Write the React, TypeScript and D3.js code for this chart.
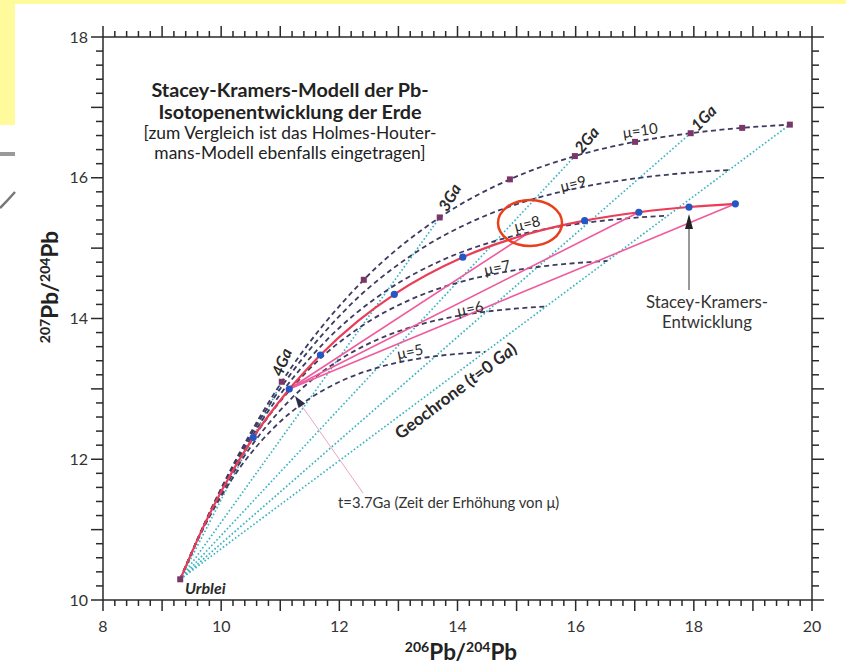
import React, { useEffect, useRef } from "react";
import * as d3 from "d3";

// Holmes-Houtermans growth curves, read at these ages (Ga)
const HH_AGES = [4.57, 4.4, 4.25, 4.0, 3.5, 3.0, 2.5, 2.0, 1.5, 1.0, 0.5, 0];
const HH_MU = [5, 6, 7, 8, 9, 10];
const HH_206 = [
  [9.307, 9.571, 9.799, 10.167, 10.861, 11.503, 12.097, 12.647, 13.156, 13.627, 14.063, 14.466],
  [9.307, 9.624, 9.897, 10.339, 11.171, 11.942, 12.655, 13.315, 13.926, 14.491, 15.014, 15.498],
  [9.307, 9.677, 9.996, 10.51, 11.482, 12.381, 13.213, 13.983, 14.696, 15.355, 15.965, 16.529],
  [9.307, 9.73, 10.094, 10.682, 11.793, 12.82, 13.771, 14.651, 15.465, 16.219, 16.916, 17.561],
  [9.307, 9.783, 10.192, 10.854, 12.103, 13.26, 14.329, 15.319, 16.235, 17.083, 17.867, 18.593],
  [9.307, 9.835, 10.291, 11.026, 12.414, 13.699, 14.887, 15.987, 17.005, 17.947, 18.818, 19.625],
];
const HH_207 = [
  [10.294, 10.798, 11.177, 11.697, 12.422, 12.865, 13.136, 13.301, 13.402, 13.464, 13.502, 13.525],
  [10.294, 10.898, 11.354, 11.978, 12.848, 13.379, 13.704, 13.902, 14.024, 14.098, 14.143, 14.171],
  [10.294, 10.999, 11.53, 12.259, 13.273, 13.893, 14.272, 14.504, 14.645, 14.732, 14.785, 14.817],
  [10.294, 11.1, 11.707, 12.539, 13.699, 14.407, 14.84, 15.105, 15.267, 15.366, 15.426, 15.463],
  [10.294, 11.201, 11.884, 12.82, 14.124, 14.921, 15.409, 15.706, 15.888, 15.999, 16.068, 16.109],
  [10.294, 11.301, 12.06, 13.101, 14.55, 15.436, 15.977, 16.308, 16.51, 16.633, 16.709, 16.755],
];
const SQUARE_AGES = [4.0, 3.5, 3.0, 2.5, 2.0, 1.5, 1.0, 0.5, 0];
const ISOCHRON_AGES = [4.0, 3.0, 2.0, 1.0, 0];

// Stacey-Kramers, stage 1 (mu 7.19) and stage 2 (mu 9.74)
const SK1_AGES = [4.57, 4.4, 4.25, 4.0, 3.7];
const SK1_206 = [9.307, 9.687, 10.014, 10.543, 11.152];
const SK1_207 = [10.294, 11.018, 11.564, 12.312, 12.998];
const SK2_AGES = [3.7, 3.5, 3.25, 3.0, 2.5, 2.0, 1.5, 1.0, 0.5, 0];
const SK2_206 = [11.152, 11.68, 12.318, 12.931, 14.089, 15.16, 16.152, 17.069, 17.918, 18.703];
const SK2_207 = [12.998, 13.481, 13.965, 14.344, 14.871, 15.193, 15.39, 15.51, 15.584, 15.629];
const SK_DOT_AGES = [4.0, 3.7, 3.5, 3.0, 2.5, 1.5, 1.0, 0.5, 0];
const SK_CHORD_AGES = [2.0, 1.0, 0];

const X_LABELS = [8, 10, 12, 14, 16, 18, 20];
const Y_LABELS = [10, 12, 14, 16, 18];

export default function App() {
  const ref = useRef<SVGSVGElement>(null);

  useEffect(() => {
    if (!ref.current) return;
    const svg = d3.select(ref.current);
    svg.selectAll("*").remove();

    const W = 846;
    const H = 668;
    const font = "Lato, 'Open Sans', sans-serif";
    const x = d3.scaleLinear().domain([8, 20]).range([103, 812]);
    const y = d3.scaleLinear().domain([10, 18]).range([600, 37]);

    // page background (slide remains)
    svg.append("rect").attr("width", W).attr("height", H).attr("fill", "#fff");
    svg.append("rect").attr("width", W).attr("height", 4).attr("fill", "#fffb9c");
    svg.append("rect").attr("width", 15).attr("height", 125).attr("fill", "#fffb9c");
    svg.append("rect").attr("y", 152).attr("width", 15).attr("height", 4).attr("fill", "#9a9a9a");
    svg
      .append("path")
      .attr("d", "M0,208 Q8,200 15,192")
      .attr("stroke", "#777")
      .attr("stroke-width", 2.5)
      .attr("fill", "none");

    const pt = (a: number, b: number): [number, number] => [x(a), y(b)];
    const line = d3
      .line<[number, number]>()
      .x((d) => d[0])
      .y((d) => d[1])
      .curve(d3.curveMonotoneX);

    // axes frame + ticks
    const axisColor = "#2a2a2a";
    const g = svg.append("g").attr("stroke", axisColor).attr("stroke-width", 1.5);
    g.append("rect")
      .attr("x", x(8))
      .attr("y", y(18))
      .attr("width", x(20) - x(8))
      .attr("height", y(10) - y(18))
      .attr("fill", "none");
    const isInt = (v: number) => Math.abs(v - Math.round(v)) < 1e-6;
    const xt = d3.range(0, 61).map((i) => 8 + i * 0.2);
    xt.forEach((v) => {
      const len = isInt(v) ? 11 : 6;
      g.append("line").attr("x1", x(v)).attr("x2", x(v)).attr("y1", y(10)).attr("y2", y(10) + len);
      g.append("line").attr("x1", x(v)).attr("x2", x(v)).attr("y1", y(18)).attr("y2", y(18) - len);
    });
    const yt = d3.range(0, 41).map((i) => 10 + i * 0.2);
    yt.forEach((v) => {
      const len = isInt(v) ? 12 : 7;
      g.append("line").attr("x1", x(8)).attr("x2", x(8) - len).attr("y1", y(v)).attr("y2", y(v));
      g.append("line").attr("x1", x(20)).attr("x2", x(20) + len).attr("y1", y(v)).attr("y2", y(v));
    });

    svg
      .append("g")
      .selectAll("text")
      .data(X_LABELS)
      .join("text")
      .attr("x", (d) => x(d))
      .attr("y", 632)
      .attr("text-anchor", "middle")
      .attr("font-family", font)
      .attr("font-size", 16)
      .attr("fill", "#333")
      .text((d) => d);
    svg
      .append("g")
      .selectAll("text")
      .data(Y_LABELS)
      .join("text")
      .attr("x", 88)
      .attr("y", (d) => y(d) + 5.5)
      .attr("text-anchor", "end")
      .attr("font-family", font)
      .attr("font-size", 16)
      .attr("fill", "#333")
      .text((d) => d);

    // axis titles with superscripts
    const isoTitle = (t: d3.Selection<SVGTextElement, unknown, null, undefined>, a: string, b: string) => {
      t.append("tspan").attr("font-size", 14).attr("dy", -8).text(a);
      t.append("tspan").attr("font-size", 22.5).attr("dy", 8).text("Pb/");
      t.append("tspan").attr("font-size", 14).attr("dy", -8).text(b);
      t.append("tspan").attr("font-size", 22.5).attr("dy", 8).text("Pb");
    };
    const xTitle = svg
      .append("text")
      .attr("x", 461)
      .attr("y", 660)
      .attr("text-anchor", "middle")
      .attr("font-family", font)
      .attr("font-weight", "bold")
      .attr("fill", "#222");
    isoTitle(xTitle, "206", "204");
    const yTitle = svg
      .append("text")
      .attr("transform", "translate(58,287) rotate(-90)")
      .attr("text-anchor", "middle")
      .attr("font-family", font)
      .attr("font-weight", "bold")
      .attr("fill", "#222");
    isoTitle(yTitle, "207", "204");

    // isochrons from Urblei to the mu=10 curve
    const mu10 = HH_MU.indexOf(10);
    ISOCHRON_AGES.forEach((a) => {
      const i = HH_AGES.indexOf(a);
      svg
        .append("line")
        .attr("x1", x(HH_206[mu10][0]))
        .attr("y1", y(HH_207[mu10][0]))
        .attr("x2", x(HH_206[mu10][i]))
        .attr("y2", y(HH_207[mu10][i]))
        .attr("stroke", "#3ab3c3")
        .attr("stroke-width", 1.7)
        .attr("stroke-dasharray", "1.6 2.2");
    });

    // Holmes-Houtermans curves
    HH_MU.forEach((m, k) => {
      const pts = HH_AGES.map((_, i) => pt(HH_206[k][i], HH_207[k][i]));
      svg
        .append("path")
        .attr("d", line(pts))
        .attr("fill", "none")
        .attr("stroke", "#3e3b63")
        .attr("stroke-width", 1.8)
        .attr("stroke-dasharray", "5 3.5");
    });

    // Stacey-Kramers straight chords from the 3.7 Ga point
    const p37 = pt(SK2_206[0], SK2_207[0]);
    SK_CHORD_AGES.forEach((a) => {
      const i = SK2_AGES.indexOf(a);
      svg
        .append("line")
        .attr("x1", p37[0])
        .attr("y1", p37[1])
        .attr("x2", x(SK2_206[i]))
        .attr("y2", y(SK2_207[i]))
        .attr("stroke", "#ef5b9c")
        .attr("stroke-width", 1.6);
    });

    // Stacey-Kramers curve
    [
      SK1_AGES.map((_, i) => pt(SK1_206[i], SK1_207[i])),
      SK2_AGES.map((_, i) => pt(SK2_206[i], SK2_207[i])),
    ].forEach((pts) => {
      svg
        .append("path")
        .attr("d", line(pts))
        .attr("fill", "none")
        .attr("stroke", "#ea3d57")
        .attr("stroke-width", 2.2);
    });

    // squares on mu=10 + Urblei
    const sq = [0, ...SQUARE_AGES.map((a) => HH_AGES.indexOf(a))];
    svg
      .append("g")
      .selectAll("rect")
      .data(sq)
      .join("rect")
      .attr("x", (i) => x(HH_206[mu10][i]) - 3)
      .attr("y", (i) => y(HH_207[mu10][i]) - 3)
      .attr("width", 6)
      .attr("height", 6)
      .attr("fill", "#7b3768");

    // SK dots
    const dotPts = SK_DOT_AGES.map((a) => {
      const i1 = SK1_AGES.indexOf(a);
      if (i1 >= 0 && a !== 3.7) return pt(SK1_206[i1], SK1_207[i1]);
      const i2 = SK2_AGES.indexOf(a);
      return pt(SK2_206[i2], SK2_207[i2]);
    });
    svg
      .append("g")
      .selectAll("circle")
      .data(dotPts)
      .join("circle")
      .attr("cx", (d) => d[0])
      .attr("cy", (d) => d[1])
      .attr("r", 3.6)
      .attr("fill", "#2456c4");

    // labels
    const label = (
      txt: string,
      px: number,
      py: number,
      rot: number,
      size: number,
      weight: string,
      style = "normal",
      fill = "#2a2a2a",
    ) =>
      svg
        .append("text")
        .attr("transform", `translate(${px},${py}) rotate(${rot})`)
        .attr("text-anchor", "middle")
        .attr("dominant-baseline", "central")
        .attr("font-family", font)
        .attr("font-size", size)
        .attr("font-weight", weight)
        .attr("font-style", style)
        .attr("fill", fill)
        .text(txt);

    label("μ=10", x(17.09), y(16.68), -8, 15, "normal");
    label("μ=9", x(15.955), y(15.925), -14, 15, "normal");
    label("μ=8", x(15.177), y(15.357), -14, 15, "normal");
    label("μ=7", x(14.669), y(14.732), -12, 15, "normal");
    label("μ=6", x(14.212), y(14.149), -12, 15, "normal");
    label("μ=5", x(13.196), y(13.538), -12, 15, "normal");

    label("4Ga", x(11.013), y(13.382), -68, 16, "bold", "italic");
    label("3Ga", x(13.856), y(15.727), -60, 16, "bold", "italic");
    label("2Ga", x(16.175), y(16.547), -50, 16, "bold", "italic");
    label("1Ga", x(18.156), y(16.859), -45, 16, "bold", "italic");

    const geo = svg
      .append("text")
      .attr("transform", `translate(455,390) rotate(-37)`)
      .attr("text-anchor", "middle")
      .attr("dominant-baseline", "central")
      .attr("font-family", font)
      .attr("font-size", 17)
      .attr("font-weight", "bold")
      .attr("fill", "#2a2a2a");
    geo.append("tspan").text("Geochrone (");
    geo.append("tspan").attr("font-style", "italic").text("t");
    geo.append("tspan").text("=0 ");
    geo.append("tspan").attr("font-style", "italic").text("Ga");
    geo.append("tspan").text(")");

    svg
      .append("text")
      .attr("x", 185)
      .attr("y", 594)
      .attr("font-family", font)
      .attr("font-size", 16)
      .attr("font-weight", "bold")
      .attr("font-style", "italic")
      .attr("fill", "#2a2a2a")
      .text("Urblei");

    // title block
    const title = [
      { t: "Stacey-Kramers-Modell der Pb-", yy: 97, w: "bold", s: 19.8 },
      { t: "Isotopenentwicklung der Erde", yy: 119, w: "bold", s: 19.8 },
      { t: "[zum Vergleich ist das Holmes-Houter-", yy: 139, w: "normal", s: 17.4 },
      { t: "mans-Modell ebenfalls eingetragen]", yy: 159, w: "normal", s: 17.4 },
    ];
    title.forEach((r) =>
      svg
        .append("text")
        .attr("x", 290)
        .attr("y", r.yy)
        .attr("text-anchor", "middle")
        .attr("font-family", font)
        .attr("font-size", r.s)
        .attr("font-weight", r.w)
        .attr("fill", "#222")
        .text(r.t),
    );

    // Stacey-Kramers annotation with arrow
    svg.append("line").attr("x1", 689).attr("x2", 689).attr("y1", 228).attr("y2", 290).attr("stroke", "#333").attr("stroke-width", 1);
    svg.append("path").attr("d", "M689,214 L685,229 L693,229 Z").attr("fill", "#222");
    ["Stacey-Kramers-", "Entwicklung"].forEach((t, i) =>
      svg
        .append("text")
        .attr("x", 707)
        .attr("y", 308 + i * 20)
        .attr("text-anchor", "middle")
        .attr("font-family", font)
        .attr("font-size", 16.8)
        .attr("fill", "#333")
        .text(t),
    );

    // t=3.7 Ga pointer
    const tip: [number, number] = [295, 396];
    const from: [number, number] = [363, 493];
    const dx = from[0] - tip[0];
    const dy = from[1] - tip[1];
    const L = Math.hypot(dx, dy);
    const ux = dx / L;
    const uy = dy / L;
    svg.append("line").attr("x1", tip[0] + ux * 10).attr("y1", tip[1] + uy * 10).attr("x2", from[0]).attr("y2", from[1]).attr("stroke", "#e9a6c0").attr("stroke-width", 1);
    const bx = tip[0] + ux * 12;
    const by = tip[1] + uy * 12;
    svg
      .append("path")
      .attr("d", `M${tip[0]},${tip[1]} L${bx - uy * 4},${by + ux * 4} L${bx + uy * 4},${by - ux * 4} Z`)
      .attr("fill", "#2d2b4a");
    svg
      .append("text")
      .attr("x", 338)
      .attr("y", 508)
      .attr("font-family", font)
      .attr("font-size", 14.8)
      .attr("fill", "#333")
      .text("t=3.7Ga (Zeit der Erhöhung von μ)");

    // red highlight ellipse around mu=8
    svg
      .append("ellipse")
      .attr("cx", 530)
      .attr("cy", 223)
      .attr("rx", 32)
      .attr("ry", 23)
      .attr("fill", "none")
      .attr("stroke", "#e8401c")
      .attr("stroke-width", 2.5);
  }, []);

  return (
    <svg
      ref={ref}
      width={846}
      height={668}
      style={{ position: "absolute", left: 0, top: 0 }}
    />
  );
}
